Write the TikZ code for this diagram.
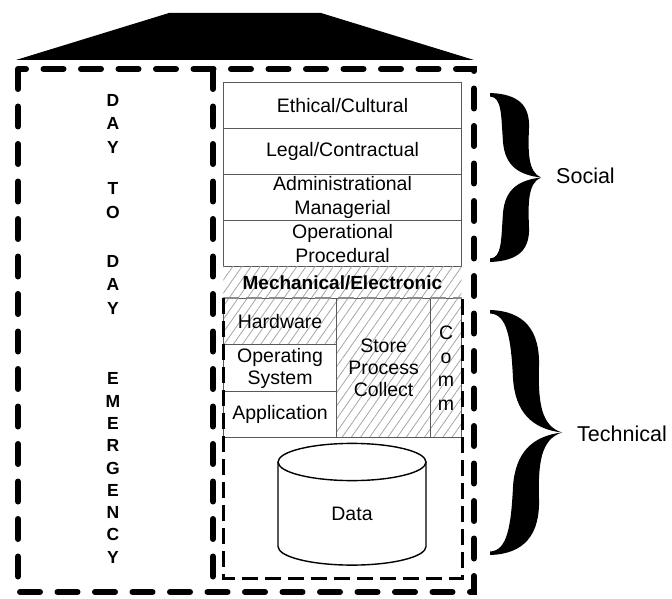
\documentclass[tikz,border=0pt]{standalone}
\usepackage{fontspec}
\setmainfont{Liberation Sans}
\usetikzlibrary{patterns.meta}
\begin{document}
\begin{tikzpicture}[x=1pt,y=-1pt,
  layer/.style={draw=black!65, line width=1.1pt, anchor=north west, inner sep=0pt, align=center, font=\fontsize{19.5}{24}\selectfont},
  hatch/.style={pattern={Lines[angle=55,distance=7.5pt,line width=0.8pt]}, pattern color=black!35},
  outerdash/.style={line width=6pt, dash pattern=on 20pt off 17.5pt, line cap=round},
  innerdash/.style={line width=3pt, dash pattern=on 16pt off 7pt},
  vert/.style={font=\fontsize{17.5}{23.5}\selectfont\bfseries, align=center, inner sep=0pt},
  side/.style={font=\fontsize{21.5}{25}\selectfont, anchor=west, inner sep=0pt}
]
\useasboundingbox (0,0) rectangle (672,599);

% roof
\fill (16,60) -- (169,13) -- (321,13) -- (474,60) -- cycle;

% social layers
\node[layer, minimum width=238, minimum height=46] (eth) at (223,82) {Ethical/Cultural};
\node[layer, minimum width=238, minimum height=46] (legal) at (223,128) {Legal/Contractual};
\node[layer, minimum width=238, minimum height=46] (admin) at (223,174) {Administrational\\Managerial};
\node[layer, minimum width=238, minimum height=46] (oper) at (223,220) {Operational\\Procedural};

% mechanical / electronic
\node[layer, draw=none, hatch, minimum width=238, minimum height=32, font=\fontsize{19}{23}\selectfont\bfseries] (mech) at (223,266) {Mechanical/Electronic};

% technical boxes
\node[layer, hatch, minimum width=113, minimum height=46] (hw) at (223,298) {Hardware};
\node[layer, fill=white, minimum width=113, minimum height=47, font=\fontsize{19.5}{22}\selectfont] (os) at (223,344) {Operating\\System};
\node[layer, fill=white, minimum width=113, minimum height=46] (app) at (223,391) {Application};
\node[layer, hatch, minimum width=94, minimum height=139, font=\fontsize{19.5}{22}\selectfont] (store) at (336,298) {Store\\Process\\Collect};
\node[layer, hatch, minimum width=31, minimum height=139, font=\fontsize{19.5}{23.5}\selectfont] (comm) at (430,298) {C\\o\\m\\m};

% data cylinder
\draw[line width=1.4pt, fill=white] (278,462) -- (278,546.5)
  arc[start angle=180, end angle=0, x radius=74, y radius=18.6] -- (426,462);
\draw[line width=1.4pt] (352,462) ellipse[x radius=74, y radius=18.6];
\node[font=\fontsize{19.5}{24}\selectfont, inner sep=0pt] (data) at (352,514) {Data};

% inner dashed frame
\draw[innerdash, draw=black!45, line width=1.5pt] (223,298) -- (462,298);
\draw[innerdash] (223,298) -- (223,578) -- (462,578) -- (462,298);

% outer dashed frame
\draw[outerdash] (18,69) rectangle (474,592);
\draw[outerdash] (213,69) -- (213,592);

% vertical words
\node[vert] (day1) at (113,123.5) {D\\A\\Y};
\node[vert] (to) at (113,200.5) {T\\O};
\node[vert] (day2) at (113,284.5) {D\\A\\Y};
\node[vert, font=\fontsize{17.5}{22.3}\selectfont\bfseries] (emerg) at (113,468) {E\\M\\E\\R\\G\\E\\N\\C\\Y};

% social brace
\def\socialhalf{(490,93) .. controls (518,94) and (530,105) .. (529,128)
  .. controls (528,152) and (528,172) .. (541,177.5)
  .. controls (519,175) and (505,166) .. (503,142)
  .. controls (501,115) and (502,97) .. (490,96.5) -- cycle}
\fill \socialhalf;
\begin{scope}[shift={(0,355)}, yscale=-1]
\fill \socialhalf;
\end{scope}
\node[side] (social) at (556,176) {Social};

% technical brace
\def\techhalf{(490,310) .. controls (524,311) and (540,330) .. (539,366)
  .. controls (538,402) and (541,426) .. (562,432.5)
  .. controls (532,429) and (515,412) .. (513,378)
  .. controls (511,338) and (507,314) .. (490,313.5) -- cycle}
\fill \techhalf;
\begin{scope}[shift={(0,865)}, yscale=-1]
\fill \techhalf;
\end{scope}
\node[side] (tech) at (577,434) {Technical};
\end{tikzpicture}
\end{document}
